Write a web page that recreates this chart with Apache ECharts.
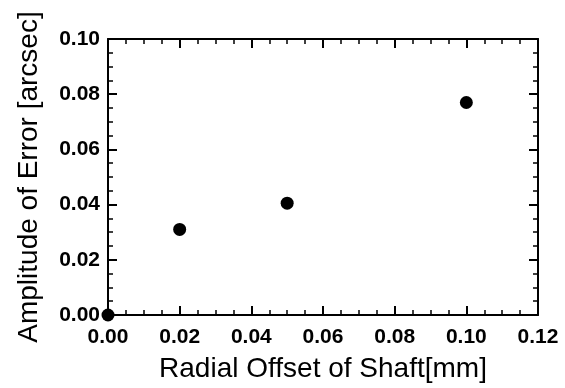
<!DOCTYPE html>
<html>
<head>
<meta charset="utf-8">
<script src="https://cdn.jsdelivr.net/npm/echarts@6/dist/echarts.min.js"></script>
<style>
  html, body { margin: 0; padding: 0; background: #fff; }
  #chart { width: 565px; height: 388px; }
</style>
</head>
<body>
<div id="chart"></div>
<script>
// radial offset of shaft [mm] vs amplitude of error [arcsec]
const offsets = [0, 0.02, 0.05, 0.10]
const amplitudes = [0, 0.031, 0.0405, 0.077]
const xTicks = [0, 0.02, 0.04, 0.06, 0.08, 0.10, 0.12]
const yTicks = [0, 0.02, 0.04, 0.06, 0.08, 0.10]

const font = 'Liberation Sans, Arial, sans-serif'

function axisBase(extra) {
  return Object.assign({
    type: 'value',
    interval: 0.02,
    axisLine: { show: true, onZero: false, lineStyle: { color: '#000', width: 2 } },
    axisTick: { show: true, inside: true, length: 9, lineStyle: { color: '#000', width: 2 } },
    minorTick: { show: true, splitNumber: 4, length: 5, lineStyle: { color: '#000', width: 1.5 } },
    splitLine: { show: false },
    axisLabel: {
      color: '#000', fontFamily: font, fontWeight: 'bold', fontSize: 21, margin: 12,
      formatter: v => v.toFixed(2)
    }
  }, extra)
}

const chart = echarts.init(document.getElementById('chart'))
chart.setOption({
  animation: false,
  backgroundColor: '#fff',
  grid: { left: 108, right: 27, top: 39, bottom: 71 },
  xAxis: [
    axisBase({
      min: xTicks[0], max: xTicks[xTicks.length - 1],
      position: 'bottom',
      name: 'Radial Offset of Shaft[mm]',
      nameLocation: 'middle',
      nameGap: 40,
      nameTextStyle: { color: '#000', fontFamily: font, fontSize: 28 }
    }),
    axisBase({
      min: xTicks[0], max: xTicks[xTicks.length - 1],
      position: 'top',
      axisLabel: { show: false }
    })
  ],
  yAxis: [
    axisBase({
      min: yTicks[0], max: yTicks[yTicks.length - 1],
      position: 'left',
      axisLabel: {
        color: '#000', fontFamily: font, fontWeight: 'bold', fontSize: 21, margin: 8,
        formatter: v => v.toFixed(2)
      },
      name: 'Amplitude of Error [arcsec]',
      nameLocation: 'middle',
      nameGap: 65,
      nameTextStyle: { color: '#000', fontFamily: font, fontSize: 28 }
    }),
    axisBase({
      min: yTicks[0], max: yTicks[yTicks.length - 1],
      position: 'right',
      axisLabel: { show: false }
    })
  ],
  series: [{
    type: 'scatter',
    symbol: 'circle',
    symbolSize: 13,
    clip: false,
    itemStyle: { color: '#000', opacity: 1 },
    data: offsets.map((x, i) => [x, amplitudes[i]])
  }]
})
</script>
</body>
</html>
